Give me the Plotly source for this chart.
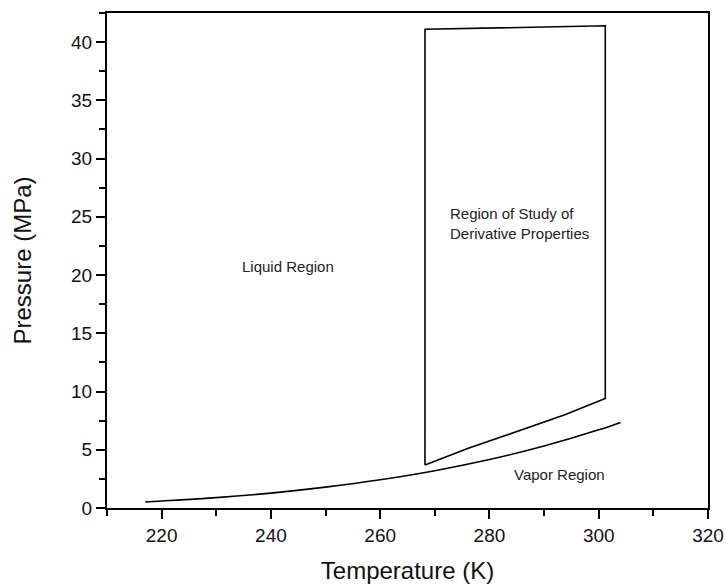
import plotly.graph_objects as go

# Saturation (vapor-pressure) curve
sat_T = [217, 220, 230, 240, 250, 260, 270, 280, 290, 300, 304]
sat_p = [0.52, 0.60, 0.89, 1.28, 1.79, 2.42, 3.20, 4.16, 5.32, 6.71, 7.35]

# Region of study boundary (closed)
reg_T = [268.2, 268.2, 301.2, 301.2, 293.8, 285, 276, 268.2]
reg_p = [3.7, 41.1, 41.4, 9.4, 8.0, 6.6, 5.1, 3.7]

labels = ["Liquid Region", "Region of Study of<br>Derivative Properties", "Vapor Region"]
label_T = [243.1, 272.4, 292.8]
label_p = [20.7, 24.4, 2.85]
label_anchor = ["center", "left", "center"]

FONT = "Liberation Sans, Arial, sans-serif"

fig = go.Figure()
fig.add_trace(go.Scatter(x=sat_T, y=sat_p, mode="lines", line=dict(color="black", width=1.6, shape="spline"), showlegend=False))
fig.add_trace(go.Scatter(x=reg_T, y=reg_p, mode="lines", line=dict(color="black", width=1.6), showlegend=False))

for t, T, p, a in zip(labels, label_T, label_p, label_anchor):
    fig.add_annotation(x=T, y=p, text=t, showarrow=False, xanchor=a, align="left",
                       font=dict(family=FONT, size=15, color="#222"))

axis_common = dict(showline=True, linecolor="black", linewidth=2, mirror=True,
                   ticks="outside", ticklen=9, tickwidth=2, tickcolor="black",
                   showgrid=False, zeroline=False, automargin=False,
                   tickfont=dict(family=FONT, size=19, color="#111"))

fig.update_xaxes(range=[210, 320], tickvals=[220, 240, 260, 280, 300, 320],
                 minor=dict(ticks="outside", ticklen=6, tickwidth=2, tickcolor="black", dtick=10, tick0=210),
                 title=dict(text="Temperature (K)", font=dict(family=FONT, size=24, color="#111"), standoff=17),
                 **axis_common)
fig.update_yaxes(range=[0, 42.5], tickvals=[0, 5, 10, 15, 20, 25, 30, 35, 40],
                 minor=dict(ticks="outside", ticklen=6, tickwidth=2, tickcolor="black", dtick=2.5, tick0=0),
                 title=dict(text="Pressure (MPa)", font=dict(family=FONT, size=24, color="#111"), standoff=33),
                 **axis_common)

fig.update_layout(width=726, height=584, margin=dict(l=107, r=18, t=13, b=76),
                  plot_bgcolor="white", paper_bgcolor="white")

fig.write_html("out.html")
